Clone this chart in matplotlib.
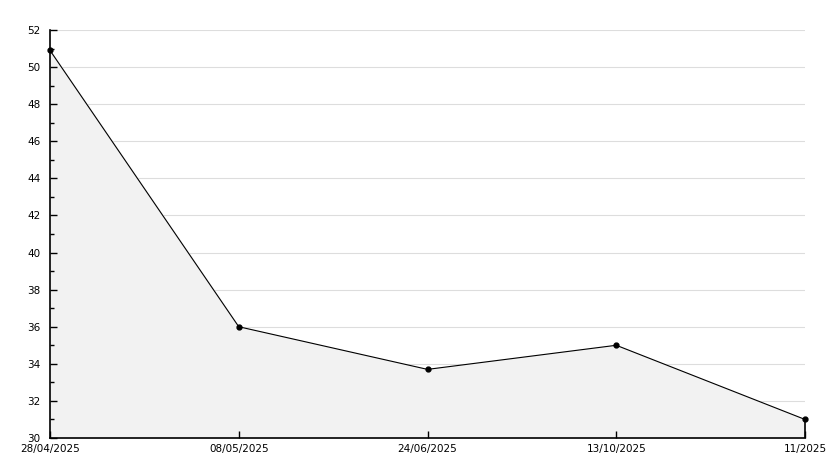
import numpy as np
import matplotlib
matplotlib.use("Agg")
import matplotlib.pyplot as plt
import matplotlib.transforms as mtransforms
from matplotlib.ticker import MultipleLocator

dates = ["28/04/2025", "08/05/2025", "24/06/2025", "13/10/2025", "11/2025"]
values = [50.9, 36.0, 33.7, 35.0, 31.0]

W, H = 834, 468
fig = plt.figure(figsize=(W / 100, H / 100), dpi=100)
ax = fig.add_axes([50 / W, (H - 438) / H, (805 - 50) / W, (438 - 30) / H])

x = np.arange(len(dates))
for yv in range(32, 53, 2):
    ax.axhline(yv, color="#dddddd", lw=0.8, zorder=0)
ax.fill_between(x, values, 30, color="#f2f2f2", zorder=1)
ax.plot(x, values, color="black", lw=0.8, marker="o", ms=3.5, zorder=4, clip_on=False)
ax.vlines(x[-1], 30, values[-1], color="black", lw=1.2, zorder=3, clip_on=False)

ax.set_xlim(0, len(dates) - 1)
ax.set_ylim(30, 52)
ax.set_xticks(x)
ax.set_xticklabels(dates)
ax.yaxis.set_major_locator(MultipleLocator(2))
ax.yaxis.set_minor_locator(MultipleLocator(1))
ax.set_axisbelow(False)

for s in ["top", "right"]:
    ax.spines[s].set_visible(False)
for s in ["left", "bottom"]:
    ax.spines[s].set_linewidth(1.2)

ax.tick_params(axis="both", which="major", direction="in", length=5, width=1,
               labelsize=7.5, colors="black")
ax.tick_params(axis="y", which="minor", direction="in", length=3, width=1)
ax.tick_params(axis="y", pad=7)
ax.tick_params(axis="x", pad=4)

fig.canvas.draw()
lab30 = ax.get_yticklabels()[0]
lab30.set_transform(lab30.get_transform() + mtransforms.ScaledTranslation(0, 2 / 72, fig.dpi_scale_trans))

fig.savefig("out.png", dpi=100, facecolor="white")
